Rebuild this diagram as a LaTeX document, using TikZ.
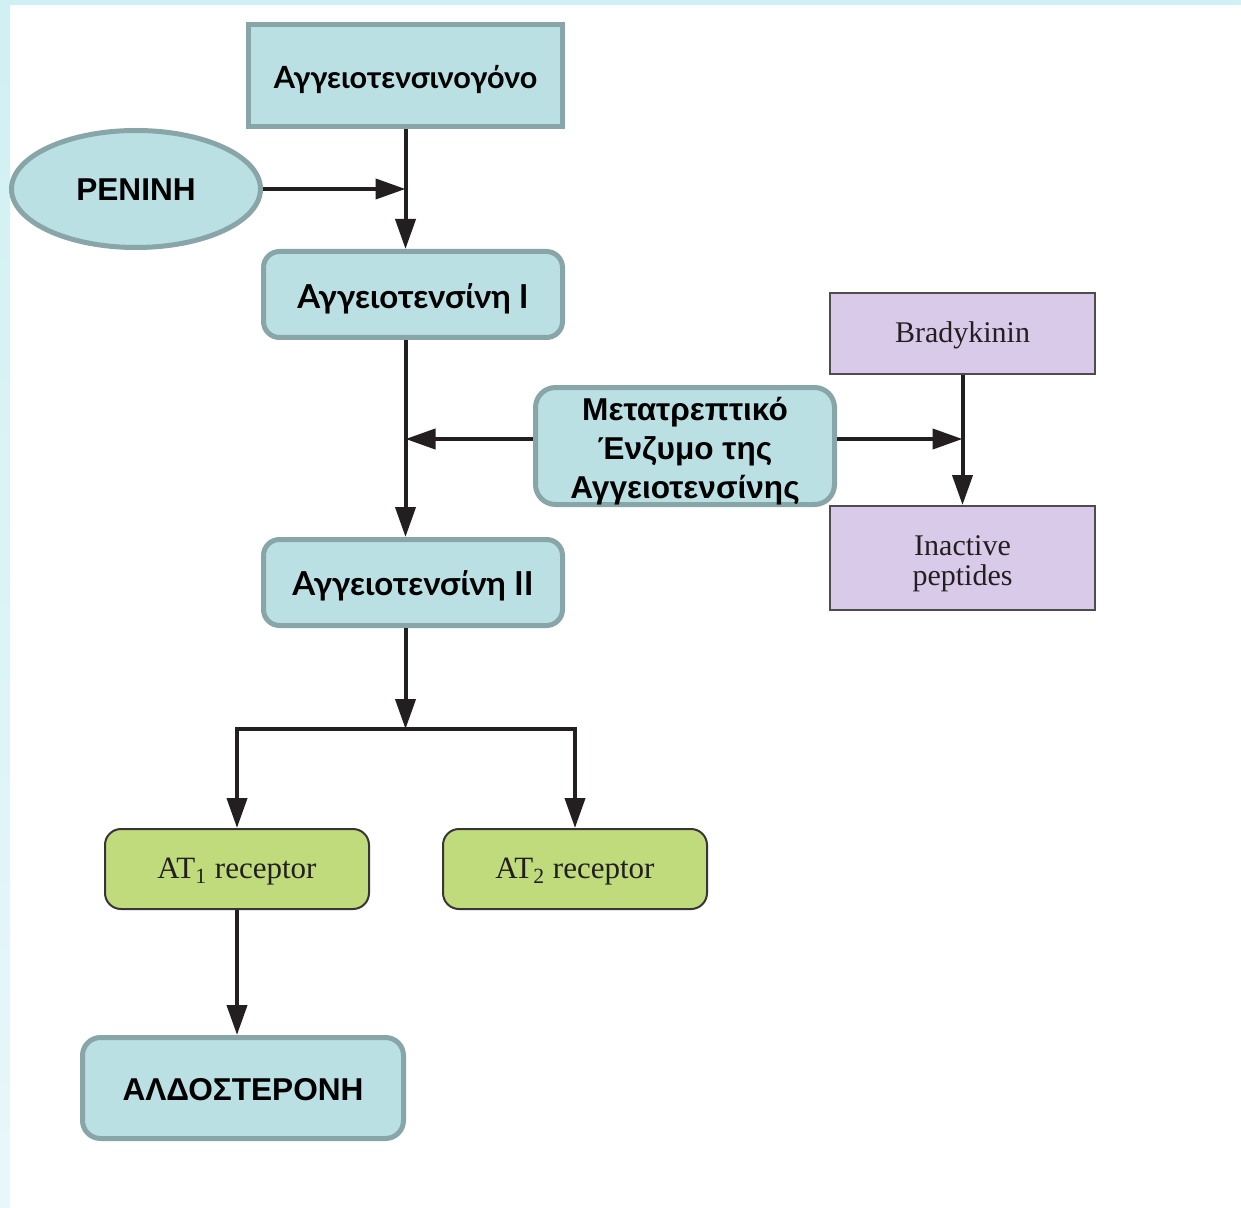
\documentclass[tikz,border=0pt]{standalone}
\usepackage{fontspec}
\setmainfont{Liberation Serif}
\newfontfamily\gillf{Lato}
\newfontfamily\arialf{Liberation Sans}
\usetikzlibrary{arrows.meta,shapes.geometric}
\newcommand\lowerby[2]{\raisebox{-#1}[\height][\depth]{#2}}
\definecolor{cyfill}{RGB}{186,224,227}
\definecolor{cydraw}{RGB}{136,165,168}
\definecolor{pufill}{RGB}{218,202,234}
\definecolor{grfill}{RGB}{192,219,124}
\definecolor{ink}{RGB}{35,31,32}
\definecolor{stripA}{RGB}{208,240,243}
\definecolor{stripB}{RGB}{232,247,250}
\tikzset{
  cybox/.style={draw=cydraw, fill=cyfill, line width=2.5pt, inner sep=0pt, align=center, text=black},
  cyround/.style={cybox, rounded corners=8pt},
  pubox/.style={draw=ink!80, fill=pufill, line width=1pt, inner sep=0pt, align=center, text=ink,
     minimum width=132.5pt, font=\fontsize{15}{15}\selectfont},
  grbox/.style={draw=ink!90, fill=grfill, line width=1pt, inner sep=0pt, rounded corners=8pt, align=center, text=ink,
     minimum width=132pt, minimum height=40pt, font=\fontsize{15.5}{15.5}\selectfont},
  gillt/.style={font=\gillf\bfseries\fontsize{16.5}{16.5}\selectfont},
  arialt/.style={font=\arialf\bfseries\fontsize{15.8}{19.5}\selectfont},
  flow/.style={draw=ink, line width=2pt, -{Triangle[length=15pt,width=10pt]}},
}
\begin{document}
\begin{tikzpicture}[x=0.5pt,y=-0.5pt]
\useasboundingbox (0,0) rectangle (1241,1208);
\fill[white] (0,0) rectangle (1241,1208);
\shade[top color=stripA, bottom color=stripB] (0,0) rectangle (10,1208);
\fill[stripA] (0,0) rectangle (1241,5);

\node[cybox, gillt, font=\gillf\bfseries\fontsize{15.3}{15.3}\selectfont, minimum width=157pt, minimum height=51pt] (ang) at (405.5,75.5) {\lowerby{2pt}{Αγγειοτενσινογόνο}};
\node[ellipse, cybox, arialt, minimum width=124.5pt, minimum height=58.5pt] (ren) at (136,189) {\lowerby{0.5pt}{ΡΕΝΙΝΗ}};
\node[cyround, gillt, minimum width=149.5pt, minimum height=43pt] (a1) at (413,294.5) {\lowerby{2pt}{Αγγειοτενσίνη Ι}};
\node[cyround, arialt, rounded corners=10pt, minimum width=149.5pt, minimum height=58.5pt] (ace) at (685,446) {\lowerby{2.5pt}{\parbox{149pt}{\centering Μετατρεπτικό\\Ένζυμο της\\Αγγειοτενσίνης}}};
\node[cyround, gillt, minimum width=149.5pt, minimum height=43pt] (a2) at (413,582.5) {\lowerby{1.5pt}{Αγγειοτενσίνη ΙΙ}};
\node[pubox, minimum height=40.5pt] (brad) at (962.5,333.5) {\lowerby{1pt}{Bradykinin}};
\node[pubox, minimum height=52pt] (inact) at (962.5,558) {\lowerby{3pt}{\parbox{130pt}{\centering Inactive\\peptides}}};
\node[grbox] (at1) at (237,869) {\lowerby{1.5pt}{AT\textsubscript{1} receptor}};
\node[grbox] (at2) at (575,869) {\lowerby{1.5pt}{AT\textsubscript{2} receptor}};
\node[cyround, arialt, rounded corners=9pt, minimum width=160.5pt, minimum height=50.5pt] (ald) at (243,1088) {\lowerby{1pt}{ΑΛΔΟΣΤΕΡΟΝΗ}};

\coordinate (jn) at (405.5,729);
\path (ace.west) ++(0,-7) coordinate (aceL);
\path (ace.east) ++(0,-7) coordinate (aceR);

\draw[flow] (ang.south) -- (ang.south |- a1.north);
\draw[flow] (ren.east) -- (ang.south |- ren.east);
\draw[flow] (ang.south |- a1.south) -- (ang.south |- a2.north);
\draw[flow] (aceL) -- (ang.south |- aceL);
\draw[flow] (aceR) -- (brad.south |- aceR);
\draw[flow] (brad.south) -- (inact.north);
\draw[flow] (ang.south |- a2.south) -- (jn);
\draw[flow] (jn) -| (at1.north);
\draw[flow] (jn) -| (at2.north);
\draw[flow] (at1.south) -- (at1.south |- ald.north);
\end{tikzpicture}
\end{document}
